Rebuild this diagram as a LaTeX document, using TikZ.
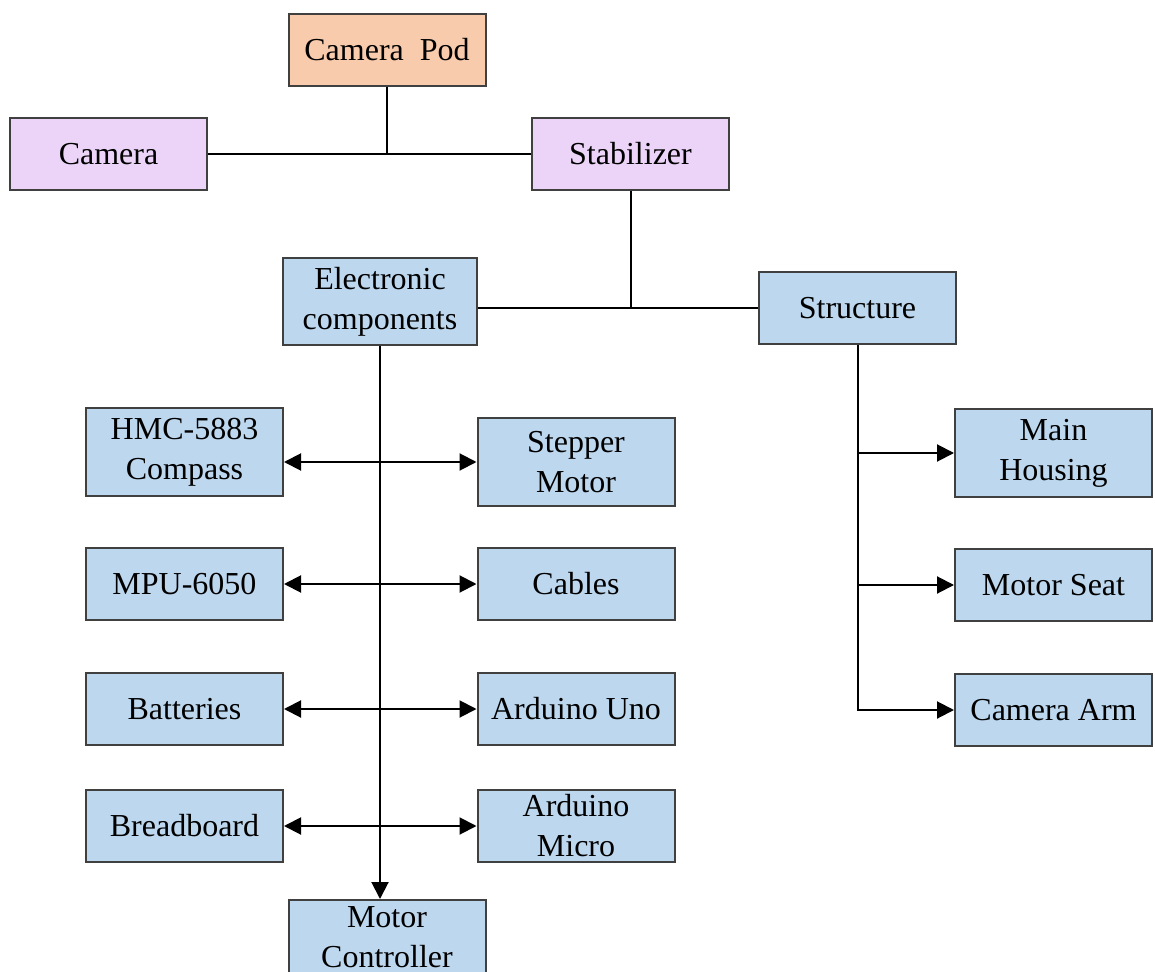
\documentclass[tikz,border=0pt]{standalone}
\usepackage{fontspec}
\setmainfont{Liberation Serif}
\usetikzlibrary{arrows.meta,positioning}
\definecolor{fg}{RGB}{0,0,0}
\definecolor{rim}{RGB}{64,64,64}
\definecolor{peach}{RGB}{248,203,173}
\definecolor{lila}{RGB}{236,212,249}
\definecolor{hb}{RGB}{189,215,238}
\tikzset{
  every picture/.style={fg, line width=1pt, >={Triangle[length=8.5pt,width=8.5pt]}},
  every node/.style={font=\fontsize{16}{20}\selectfont},
  % Kästen
  box/.style={draw=rim, line width=1pt, fill=#1, text=fg, align=center, inner sep=0pt,
    minimum width=98.5pt, minimum height=36pt},
  box/.default=hb,
  tall/.style={minimum height=43.5pt},
  % Verbindungen
  link/.style={line width=1pt},
  arr/.style={link, ->},
}
\begin{document}
\begin{tikzpicture}[x=0.5pt, y=-0.5pt]
  \useasboundingbox (0,0) rectangle (1155,972);
  % oberer Teil
  \node[box=peach] (pod) at (387,50) {Camera\ \ Pod};
  \node[box=lila] (cam) at (108.5,154) {Camera};
  \node[box=lila] (stab) at (630.5,154) {Stabilizer};
  \node[box, tall, minimum width=97pt] (elec) at (380,301.5) {Electronic\\components};
  \node[box] (struc) at (857.5,308.5) {Structure};
  % Elektronik
  \node[box, tall] (hmc) at (184.5,452) {HMC-5883\\Compass};
  \node[box, tall] (step) at (576,462) {Stepper\\Motor};
  \node[box] (mpu) at (184.5,584) {MPU-6050};
  \node[box] (cab) at (576,584) {Cables};
  \node[box] (bat) at (184.5,709) {Batteries};
  \node[box] (uno) at (576,709) {Arduino Uno};
  \node[box] (bread) at (184.5,826) {Breadboard};
  \node[box] (micro) at (576,826) {Arduino\\Micro};
  \node[box, minimum height=37pt] (mc) at (387,937) {Motor\\Controller};
  % Aufbau
  \node[box, tall] (house) at (1053.5,453) {Main\\Housing};
  \node[box] (seat) at (1053.5,585) {Motor Seat};
  \node[box] (arm) at (1053.5,710) {Camera Arm};

  % Verbindungen
  \draw[link] (cam.east) -- (stab.west);
  \draw[link] (pod.south) -- (pod.south |- cam.east);
  \draw[link] (elec.east |- struc.west) -- (struc.west);
  \draw[link] (stab.south) -- (stab.south |- struc.west);
  \draw[arr] (elec.south) -- (elec.south |- mc.north);
  \foreach \l/\r in {hmc/step, mpu/cab, bat/uno, bread/micro}
    \draw[link, <->] (\l.east |- \r.west) -- (\r.west);
  \draw[arr] (struc.south) |- (arm.west);
  \foreach \n in {house, seat}
    \draw[arr] (struc.south |- \n.west) -- (\n.west);
\end{tikzpicture}
\end{document}
